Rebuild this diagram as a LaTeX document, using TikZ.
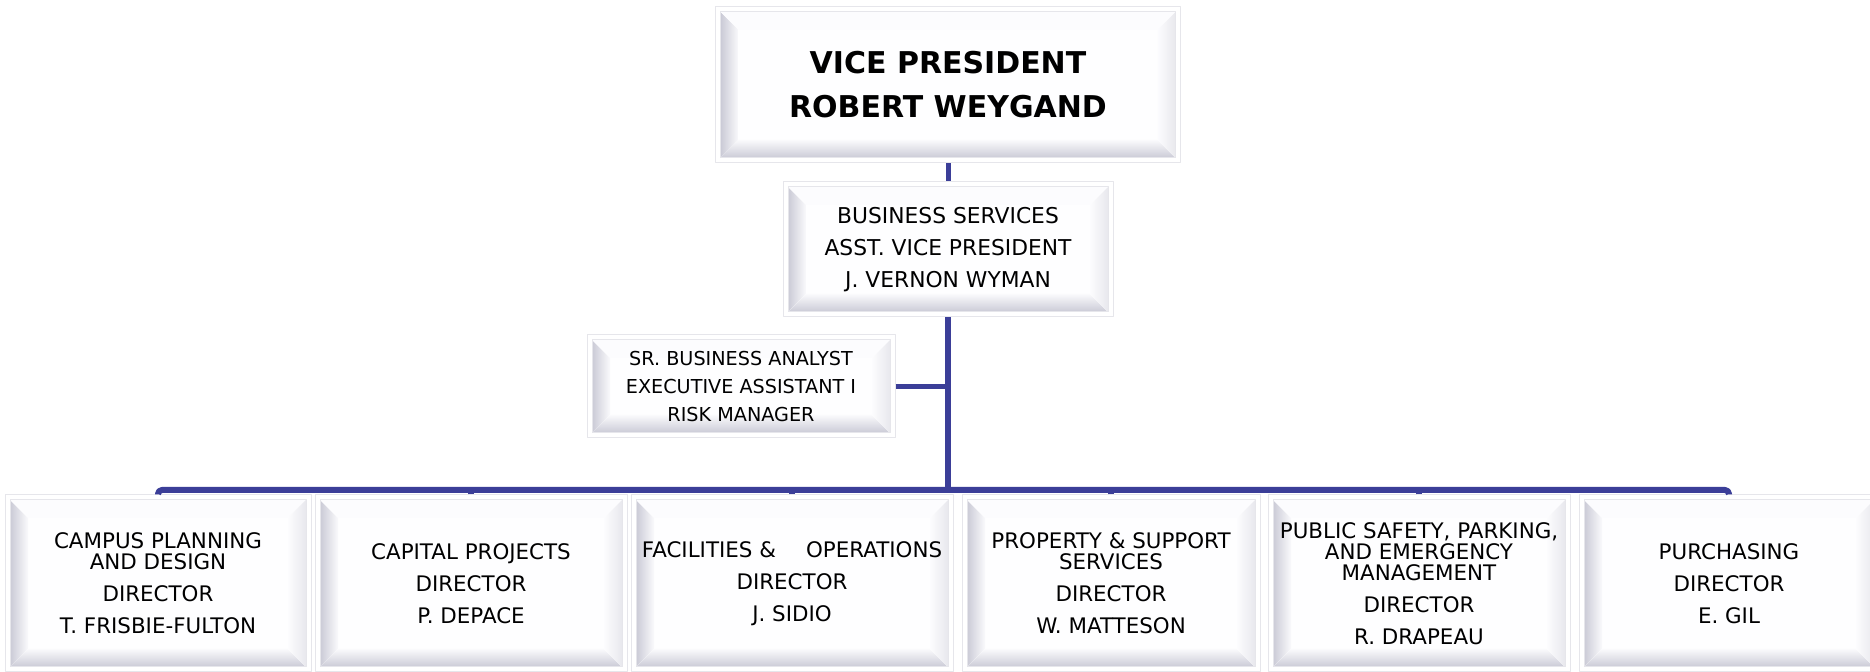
\documentclass[tikz,border=0pt]{standalone}
\usepackage{fontspec}
\setmainfont{DejaVu Sans}
\usepackage{tikz}
\usetikzlibrary{calc}

\definecolor{linkblue}{RGB}{59,62,152}
\definecolor{rimgray}{RGB}{230,230,235}
\definecolor{bevdark}{RGB}{202,202,214}
\definecolor{bevlight}{RGB}{250,250,252}
\definecolor{bevtop}{RGB}{252,252,254}
\definecolor{bevside}{RGB}{232,232,237}
\definecolor{facewhite}{RGB}{254,254,255}

\begin{document}
\begin{tikzpicture}[x=0.5pt,y=-0.5pt,line join=round]
  \tikzstyle{box}=[draw=rimgray,line width=0.5pt,fill=white,inner sep=0pt,align=center,
    path picture={
      \coordinate (o1) at ([shift={(2.5pt,2.5pt)}]path picture bounding box.south west);
      \coordinate (o2) at ([shift={(-2.5pt,-2.5pt)}]path picture bounding box.north east);
      \coordinate (i1) at ([shift={(11.5pt,11.5pt)}]path picture bounding box.south west);
      \coordinate (i2) at ([shift={(-11.5pt,-11.5pt)}]path picture bounding box.north east);
      \fill[facewhite] (o1) rectangle (o2);
      \fill[left color=bevdark,right color=bevlight] (o1) -- (o1 |- o2) -- (i1 |- i2) -- (i1) -- cycle;
      \fill[bottom color=bevdark,top color=bevlight] (o1) -- (i1) -- (i2 |- i1) -- (o2 |- o1) -- cycle;
      \fill[bevtop] (o1 |- o2) -- (o2) -- (i2) -- (i1 |- i2) -- cycle;
      \fill[left color=bevtop,right color=bevside] (o2 |- o1) -- (o2) -- (i2) -- (i2 |- i1) -- cycle;
      \draw[rimgray,line width=0.5pt] (o1) rectangle (o2);
    }]
  \tikzstyle{dept}=[box,minimum height=88.5pt,font=\fontsize{10.7}{16}\selectfont]
  \tikzstyle{link}=[draw=linkblue,line width=3pt]
  \path[use as bounding box,fill=white] (0,0) rectangle (1870,672);

  \node[box,minimum width=232.5pt,minimum height=78pt,font=\fontsize{15}{22}\selectfont\bfseries] (vp) at (948,85) {VICE PRESIDENT\\ROBERT WEYGAND};
  \node[box,minimum width=165pt,minimum height=67.5pt,font=\fontsize{10.9}{15.8}\selectfont] (bs) at (948,249.5) {BUSINESS SERVICES\\ASST. VICE PRESIDENT\\J. VERNON WYMAN};
  \node[box,minimum width=154pt,minimum height=51.5pt,font=\fontsize{9.6}{14}\selectfont] (staff) at (741,386.5) {SR. BUSINESS ANALYST\\EXECUTIVE ASSISTANT I\\RISK MANAGER};
  \coordinate (hub) at (948,490);

  \node[dept,minimum width=153pt] (plan) at (158,583.5) {CAMPUS PLANNING\\[-5.6pt]AND DESIGN\\DIRECTOR\\T. FRISBIE-FULTON};
  \node[dept,minimum width=156pt] (capital) at (471,583.5) {CAPITAL PROJECTS\\DIRECTOR\\P. DEPACE};
  \node[dept,minimum width=161pt] (facil) at (792,583.5) {FACILITIES \&\hspace{15pt}OPERATIONS\\DIRECTOR\\J. SIDIO};
  \node[dept,minimum width=149pt] (prop) at (1111,583.5) {PROPERTY \& SUPPORT\\[-5.6pt]SERVICES\\DIRECTOR\\W. MATTESON};
  \node[dept,minimum width=151pt] (safety) at (1419,583.5) {PUBLIC SAFETY, PARKING,\\[-5.6pt]AND EMERGENCY\\[-5.6pt]MANAGEMENT\\DIRECTOR\\R. DRAPEAU};
  \node[dept,minimum width=150pt] (purch) at (1729,583.5) {PURCHASING\\DIRECTOR\\E. GIL};

  \draw[link,line width=2.5pt] (vp) -- (bs);
  \draw[link] (bs) -- (hub);
  \draw[link,line width=2.5pt] (staff) -- (staff -| hub);
  \draw[link,rounded corners=2pt] (plan.north) |- (hub) -| (purch.north);
  \foreach \n in {capital,facil,prop,safety}
    \draw[link] (\n.north) -- (\n.north |- hub);
\end{tikzpicture}
\end{document}
